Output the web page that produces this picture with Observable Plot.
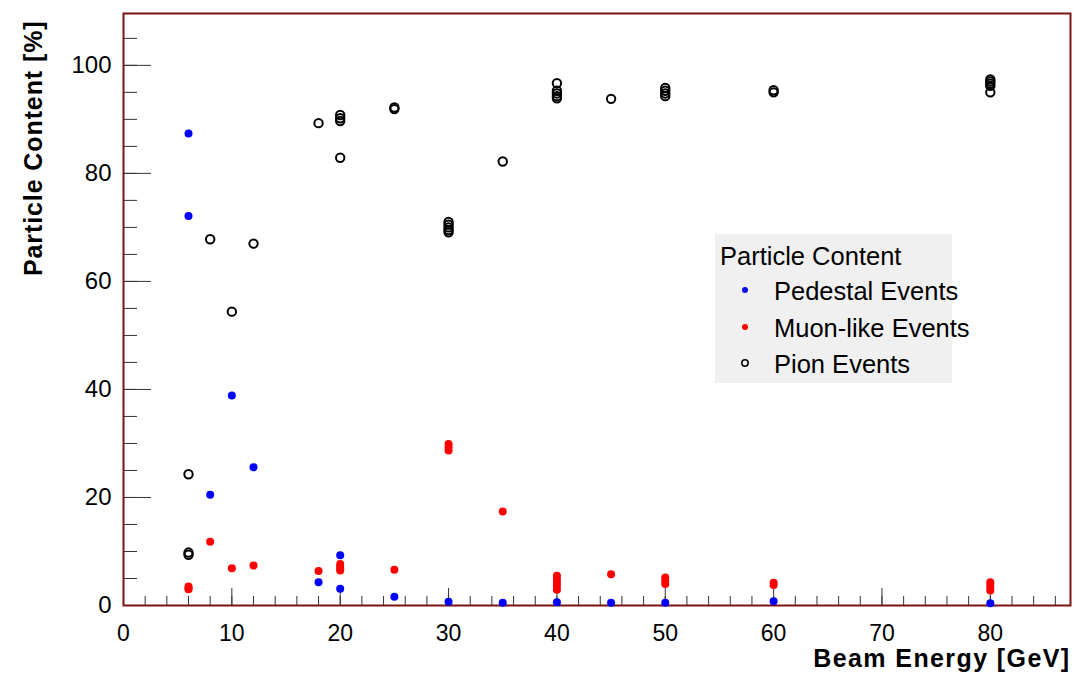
<!DOCTYPE html>
<html>
<head>
<meta charset="utf-8">
<script src="https://cdn.jsdelivr.net/npm/d3@7"></script>
<script src="https://cdn.jsdelivr.net/npm/@observablehq/plot@0.6"></script>
<style>
  html, body { margin: 0; padding: 0; background: #ffffff; }
  #chart { position: relative; width: 1075px; height: 674px; }
</style>
</head>
<body>
<div id="chart"></div>
<script>
// ---- data ----
const pedestalEnergy = [6, 6, 8, 10, 12, 18, 20, 20, 25, 30, 35, 40, 45, 50, 60, 80];
const pedestalValue  = [87.4, 72.1, 20.5, 38.9, 25.6, 4.3, 9.3, 3.1, 1.6, 0.7, 0.5, 0.6, 0.5, 0.5, 0.8, 0.4];

const muonEnergy = [6, 6, 6, 8, 10, 12, 18, 20, 20, 20, 20, 25, 30, 30, 30, 35, 40, 40, 40, 40, 40, 45, 50, 50, 50, 60, 60, 80, 80, 80, 80];
const muonValue  = [3.0, 3.5, 3.2, 11.8, 6.9, 7.4, 6.4, 6.5, 6.9, 7.3, 7.7, 6.6, 29.9, 29.3, 28.7, 17.4, 5.5, 4.8, 4.2, 3.6, 2.9, 5.8, 5.2, 4.6, 4.0, 4.2, 3.8, 4.3, 3.8, 3.3, 2.8];

const pionEnergy = [6, 6, 6, 8, 10, 12, 18, 20, 20, 20, 20, 25, 25, 30, 30, 30, 30, 30, 35, 40, 40, 40, 40, 40, 45, 50, 50, 50, 50, 60, 60, 80, 80, 80, 80, 80];
const pionValue  = [24.3, 9.8, 9.4, 67.8, 54.4, 67.0, 89.3, 90.8, 90.2, 89.7, 82.9, 92.2, 91.9, 71.0, 70.5, 70.0, 69.5, 69.1, 82.2, 96.7, 95.3, 94.8, 94.3, 93.9, 93.8, 95.8, 95.3, 94.8, 94.3, 95.4, 95.0, 97.4, 97.0, 96.6, 96.2, 95.0];

const xLabelTicks = [0, 10, 20, 30, 40, 50, 60, 70, 80];
const xMinorTicks = d3.range(0, 87, 2);
const yLabelTicks = [0, 20, 40, 60, 80, 100];
const yMinorTicks = d3.range(0, 109, 5);

const seriesNames = ["Pedestal Events", "Muon-like Events", "Pion Events"];
const legendTitle = "Particle Content";
const xTitle = "Beam Energy [GeV]";
const yTitle = "Particle Content [%]";

// ---- build tables ----
const pedestal = pedestalEnergy.map((e, i) => ({energy: e, value: pedestalValue[i]}));
const muon = muonEnergy.map((e, i) => ({energy: e, value: muonValue[i]}));
const pion = pionEnergy.map((e, i) => ({energy: e, value: pionValue[i]}));

const W = 1075, H = 674;
const mL = 123, mR = 5, mT = 13, mB = 69;
const innerW = W - mL - mR, innerH = H - mT - mB;
const font = "'Liberation Sans', Arial, Helvetica, sans-serif";
const tickColor = "#333";
const frameColor = "#7d1212";

const plot = Plot.plot({
  width: W,
  height: H,
  marginLeft: mL,
  marginRight: mR,
  marginTop: mT,
  marginBottom: mB,
  style: {fontFamily: font, background: "#ffffff", color: "#000"},
  x: {domain: [0, 87.4]},
  y: {domain: [0, 109.6]},
  marks: [
    // minor and major ticks pointing inward
    Plot.tickY(yMinorTicks, {y: d => d, stroke: tickColor, strokeWidth: 1, insetRight: innerW - 14}),
    Plot.tickY(yLabelTicks, {y: d => d, stroke: tickColor, strokeWidth: 1, insetRight: innerW - 28}),
    Plot.tickX(xMinorTicks, {x: d => d, stroke: tickColor, strokeWidth: 1, insetTop: innerH - 9}),
    Plot.tickX(xLabelTicks, {x: d => d, stroke: tickColor, strokeWidth: 1, insetTop: innerH - 17}),
    Plot.frame({stroke: frameColor, strokeWidth: 2}),
    Plot.axisX({ticks: xLabelTicks, tickSize: 0, tickPadding: 19, fontSize: 23, label: null, tickFormat: d => String(d)}),
    Plot.axisY({ticks: yLabelTicks, tickSize: 0, tickPadding: 12, fontSize: 24, label: null, tickFormat: d => String(d)}),
    Plot.text([xTitle], {frameAnchor: "bottom-right", dy: 61, textAnchor: "end", fontWeight: "bold", fontSize: 25, fill: "#000"}),
    Plot.text([yTitle], {frameAnchor: "top-left", rotate: -90, textAnchor: "end", dx: -99, dy: 7, fontWeight: "bold", fontSize: 25, fill: "#000"}),
    Plot.dot(pion, {x: "energy", y: "value", r: 4.2, stroke: "#000", strokeWidth: 2, fill: "none"}),
    Plot.dot(muon, {x: "energy", y: "value", r: 4, fill: "#ff0000", stroke: "none"}),
    Plot.dot(pedestal, {x: "energy", y: "value", r: 4, fill: "#0000ff", stroke: "none"})
  ]
});

document.getElementById("chart").appendChild(plot);

const svg = d3.select(plot);
// slightly wider axis titles, as in the reference
svg.selectAll("text").filter(function () { return this.textContent === xTitle; }).attr("letter-spacing", "1.4px");
svg.selectAll("text").filter(function () { return this.textContent === yTitle; }).attr("letter-spacing", "0.9px");

// ---- legend box (inside the plot frame) ----
const lg = svg.append("g").attr("font-family", font).attr("text-anchor", "start");
lg.append("rect").attr("x", 715).attr("y", 234).attr("width", 237).attr("height", 149).attr("fill", "#f0f0f0");
lg.append("text").attr("x", 720).attr("y", 265).attr("font-size", 25.5).attr("fill", "#000").attr("text-anchor", "start").text(legendTitle);
const entryY = [290, 327, 363];
const markers = [
  {fill: "#0000ff", stroke: "none", r: 3},
  {fill: "#ff0000", stroke: "none", r: 3},
  {fill: "none", stroke: "#000", r: 3.2}
];
seriesNames.forEach((name, i) => {
  const m = markers[i];
  lg.append("circle").attr("cx", 745).attr("cy", entryY[i]).attr("r", m.r)
    .attr("fill", m.fill).attr("stroke", m.stroke).attr("stroke-width", 1.5);
  lg.append("text").attr("x", 774).attr("y", entryY[i] + 10).attr("font-size", 25.5).attr("fill", "#000")
    .attr("text-anchor", "start").text(name);
});
</script>
</body>
</html>
